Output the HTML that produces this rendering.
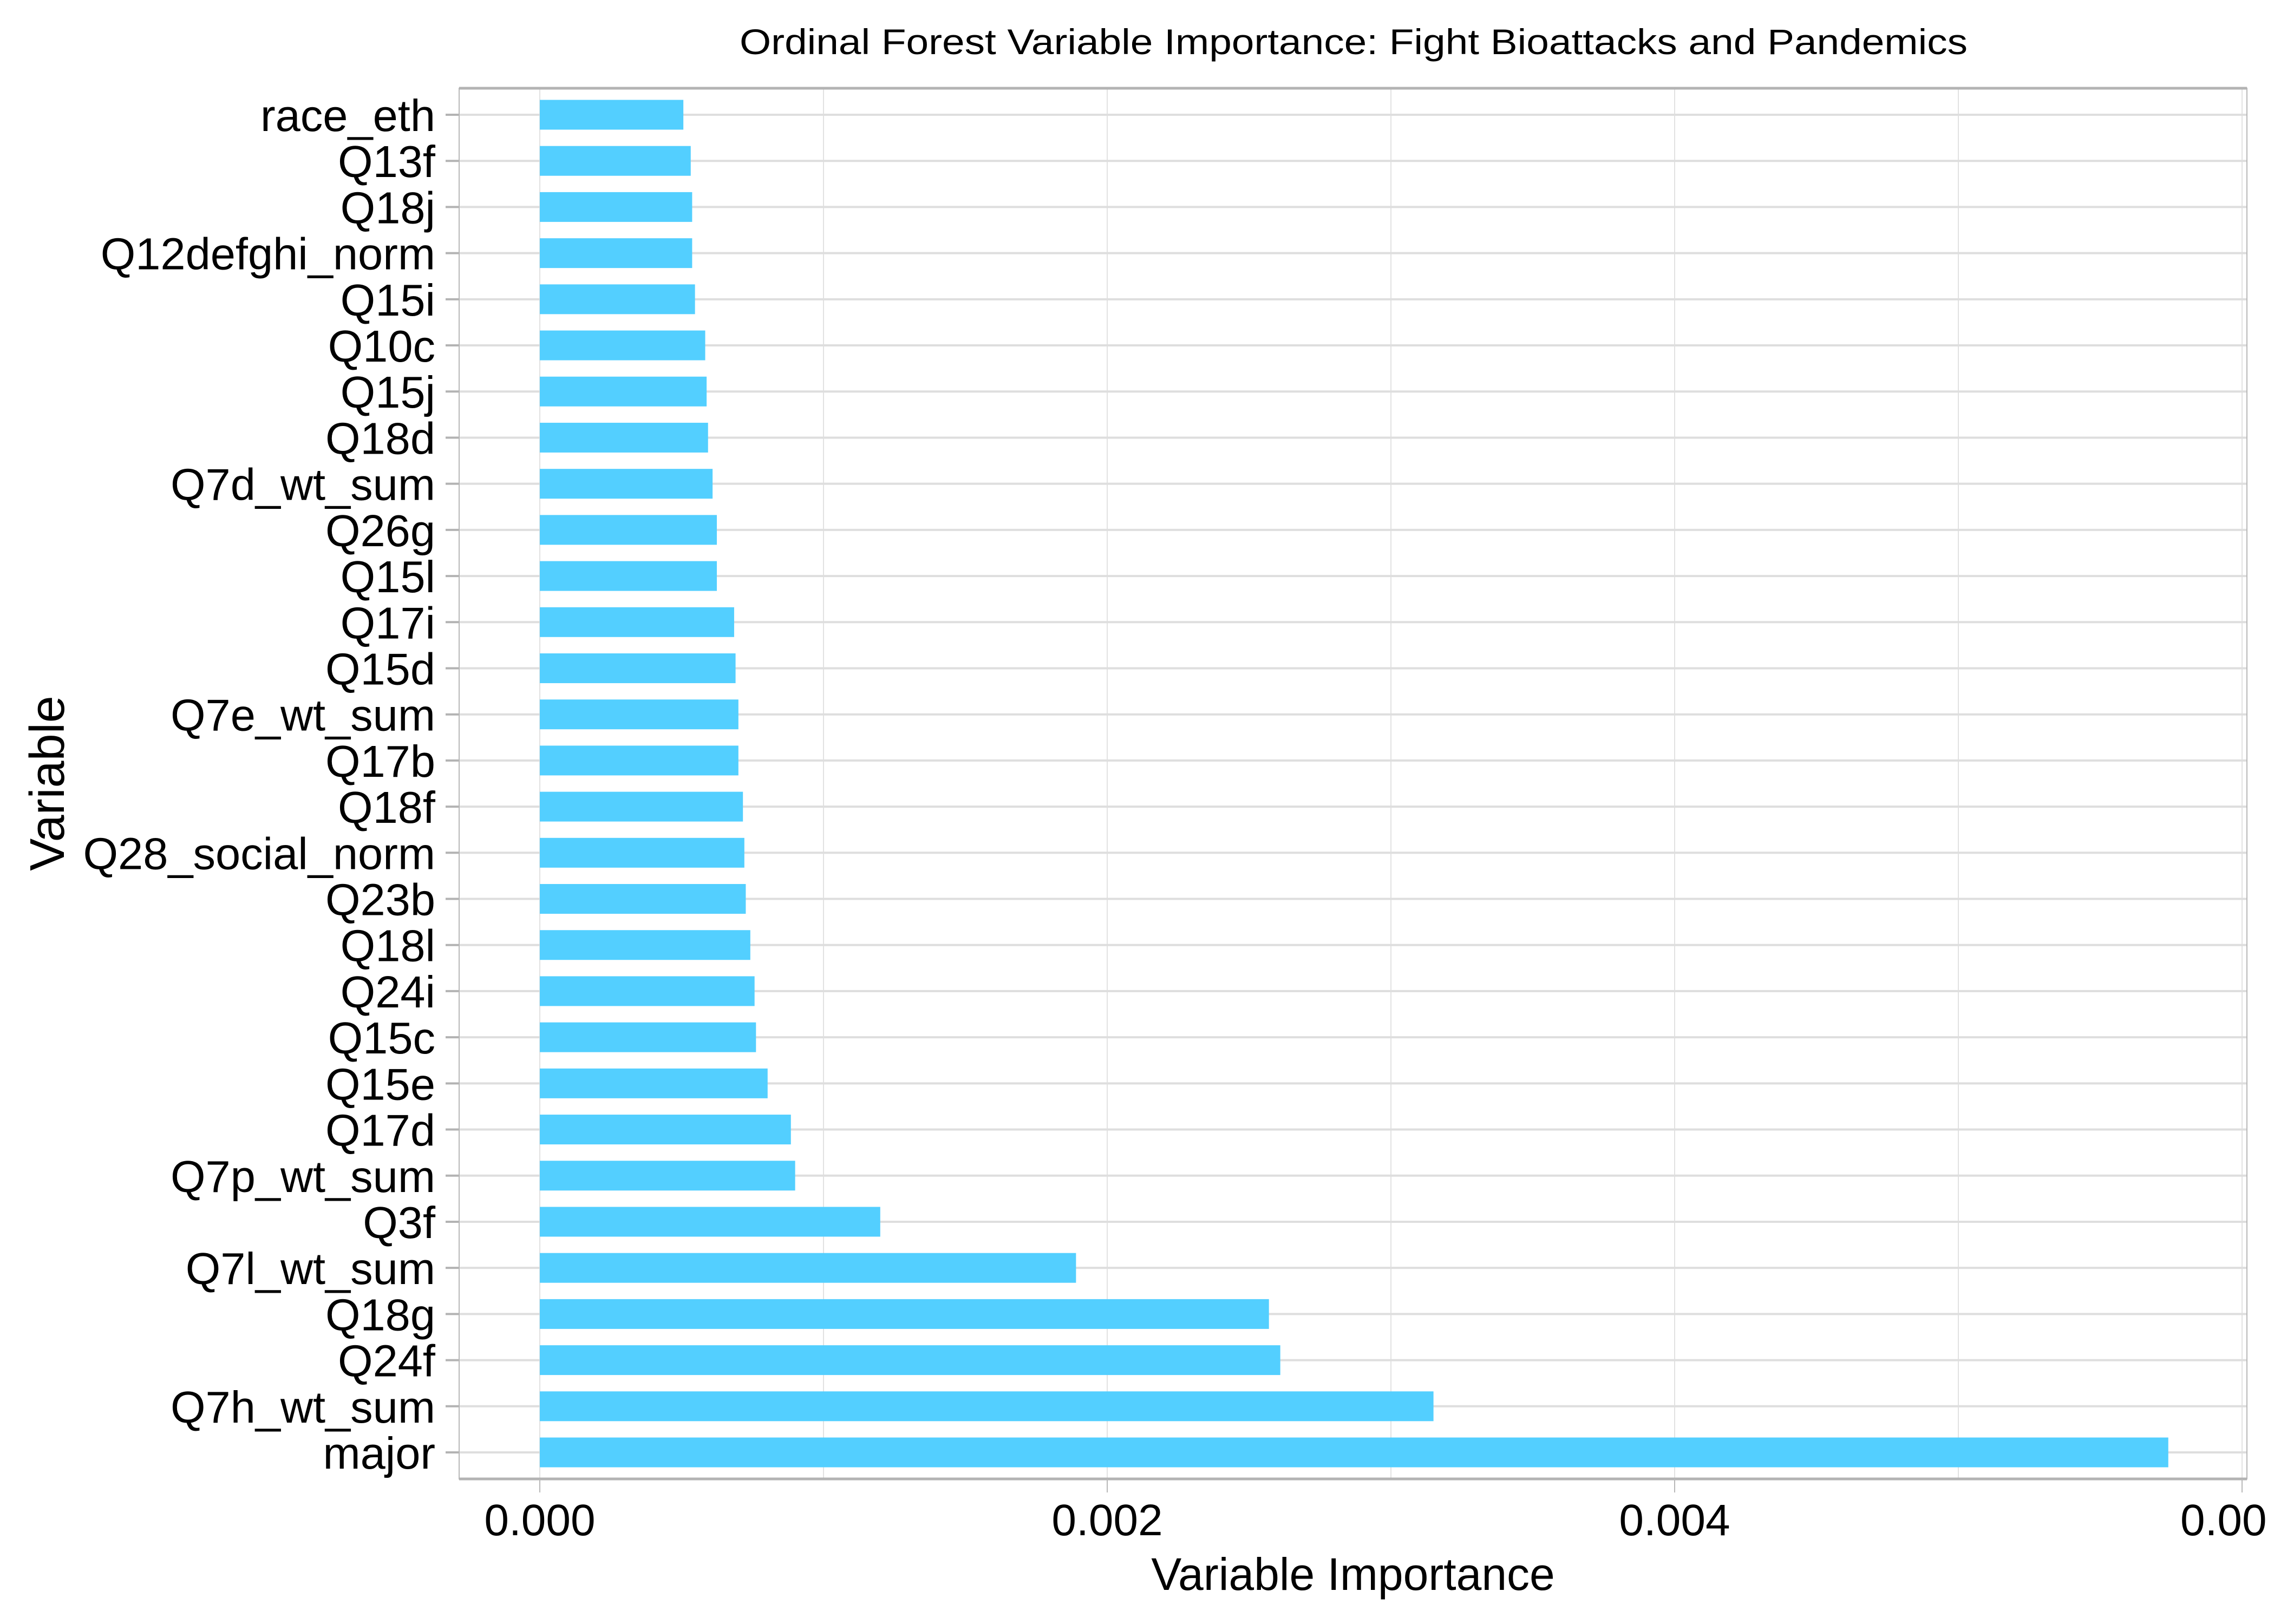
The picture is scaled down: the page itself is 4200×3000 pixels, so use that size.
<!DOCTYPE html>
<html><head><meta charset="utf-8"><style>
html,body{margin:0;padding:0;background:#fff;}
svg{display:block;font-family:"Liberation Sans",Arial,sans-serif;}
</style></head><body>
<svg id="chart" width="4200" height="3000" viewBox="0 0 4200 3000">
<rect width="4200" height="3000" fill="#fff"/>
<text x="2500" y="100" font-size="66" text-anchor="middle" textLength="2268" lengthAdjust="spacingAndGlyphs">Ordinal Forest Variable Importance: Fight Bioattacks and Pandemics</text>
<g id="grid"></g>
<g id="bars"></g>
<g id="axes"></g>
<text x="2499" y="2937" font-size="84" text-anchor="middle">Variable Importance</text>
<text x="0" y="0" font-size="90" text-anchor="middle" transform="translate(86,1447) rotate(-90) translate(0,32)">Variable</text>
</svg>
<script>
const categories = ["race_eth","Q13f","Q18j","Q12defghi_norm","Q15i","Q10c","Q15j","Q18d","Q7d_wt_sum","Q26g","Q15l","Q17i","Q15d","Q7e_wt_sum","Q17b","Q18f","Q28_social_norm","Q23b","Q18l","Q24i","Q15c","Q15e","Q17d","Q7p_wt_sum","Q3f","Q7l_wt_sum","Q18g","Q24f","Q7h_wt_sum","major"];
const values = [0.000506,0.000532,0.000537,0.000537,0.000547,0.000583,0.000588,0.000593,0.000609,0.000624,0.000624,0.000685,0.00069,0.0007,0.0007,0.000716,0.000721,0.000726,0.000742,0.000757,0.000762,0.000803,0.000885,0.0009,0.0012,0.00189,0.00257,0.00261,0.00315,0.00574];
const xTicks = [0,0.002,0.004,0.006];
const xTickLabels = ["0.000","0.002","0.004","0.00"];
const xMinor = [0.001,0.003,0.005];

const NS="http://www.w3.org/2000/svg";
const L=848,R=4150,T=163,B=2732;
const X0=997, PXU=524000;
function xs(v){return X0+v*PXU;}
const firstY=212, step=(2683-212)/(categories.length-1);
function ys(i){return firstY+i*step;}
function mk(tag,attrs,parent){const e=document.createElementNS(NS,tag);for(const k in attrs)e.setAttribute(k,attrs[k]);parent.appendChild(e);return e;}
const grid=document.getElementById('grid'),bars=document.getElementById('bars'),axes=document.getElementById('axes');

xMinor.concat(xTicks).forEach(v=>{
  const x=xs(v); if(x>R) return;
  const l=mk('line',{x1:x,x2:x,y1:T,y2:B,stroke:'#e2e2e2','stroke-width':2},grid);
  
  
});
categories.forEach((c,i)=>{
  const y=ys(i);
  const l=mk('line',{x1:L,x2:R,y1:y,y2:y,stroke:'#dedede','stroke-width':4},grid);
  
  
  const r=mk('rect',{x:xs(0),y:y-27.5,width:xs(values[i])-xs(0),height:55,fill:'#53cfff'},bars);
  
  
  const t=mk('line',{x1:823,x2:848,y1:y,y2:y,stroke:'#b3b3b3','stroke-width':4},axes);
  
  
  const tx=mk('text',{x:804,y:y+30,'font-size':83,'text-anchor':'end'},axes);
  tx.textContent=c;
  
  
});
const fr=mk('rect',{x:L,y:T,width:R-L,height:B-T,fill:'none',stroke:'#b8b8b8','stroke-width':2},axes);


const tb=mk('line',{x1:L,x2:R,y1:T,y2:T,stroke:'#b3b3b3','stroke-width':5},axes);


const bb=mk('line',{x1:L,x2:R,y1:B,y2:B,stroke:'#b3b3b3','stroke-width':5},axes);


xTicks.forEach((v,i)=>{
  const x=xs(v);
  const t=mk('line',{x1:x,x2:x,y1:B,y2:2757,stroke:'#b8b8b8','stroke-width':2},axes);
  
  
  const half=114;
  const anchor = (x+half>4200)?'start':'middle';
  const tx=mk('text',{x:anchor==='start'?x-half:x,y:2836,'font-size':82,'text-anchor':anchor},axes);
  tx.textContent=xTickLabels[i];
  
  
});
</script>
</body></html>
